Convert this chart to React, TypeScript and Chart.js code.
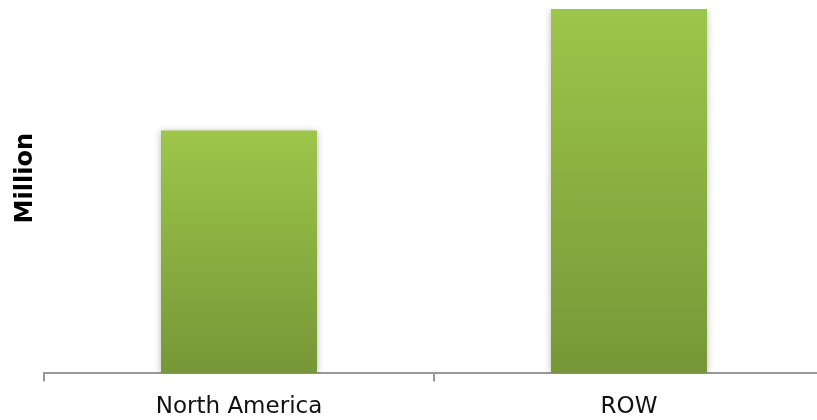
import React, { useEffect, useRef } from "react";
import { Chart, registerables } from "chart.js";

Chart.register(...registerables);

const categories = ["North America", "ROW"];
const values = [2.0, 3.0];
const yAxisTitle = "Million";
const yMax = 3.0;

const shadowPlugin = {
  id: "barShadow",
  beforeDatasetsDraw(chart: any) {
    const ctx = chart.ctx;
    ctx.save();
    ctx.shadowColor = "rgba(0,0,0,0.28)";
    ctx.shadowBlur = 7;
    ctx.shadowOffsetX = 0;
    ctx.shadowOffsetY = 1;
  },
  afterDatasetsDraw(chart: any) {
    chart.ctx.restore();
  },
};

const yTitlePlugin = {
  id: "yTitle",
  afterDraw(chart: any) {
    const ctx = chart.ctx;
    const area = chart.chartArea;
    ctx.save();
    ctx.translate(26, (area.top + area.bottom) / 2 - 13);
    ctx.rotate(-Math.PI / 2);
    ctx.font = "bold 24px 'DejaVu Sans'";
    ctx.fillStyle = "#000000";
    ctx.textAlign = "center";
    ctx.textBaseline = "middle";
    ctx.fillText(yAxisTitle, 0, 0);
    ctx.restore();
  },
};

export default function App() {
  const ref = useRef<HTMLCanvasElement | null>(null);
  useEffect(() => {
    document.documentElement.style.overflow = "hidden";
    document.body.style.overflow = "hidden";
    const chart = new Chart(ref.current as HTMLCanvasElement, {
      type: "bar",
      data: {
        labels: categories,
        datasets: [
          {
            data: values,
            backgroundColor: (c: any) => {
              const chart = c.chart;
              if (!chart.chartArea || c.parsed == null) return "#8bb142";
              const y = chart.scales.y;
              const top = y.getPixelForValue(c.parsed.y);
              const bottom = y.getPixelForValue(0);
              const g = chart.ctx.createLinearGradient(0, top, 0, bottom);
              g.addColorStop(0, "#9dc64a");
              g.addColorStop(1, "#779738");
              return g;
            },
            borderWidth: 0,
            barPercentage: 0.4,
            categoryPercentage: 1,
          },
        ],
      },
      options: {
        animation: false,
        responsive: false,
        maintainAspectRatio: false,
        layout: { padding: { top: 9, bottom: 3, left: 0, right: 0 } },
        plugins: { legend: { display: false }, tooltip: { enabled: false } },
        scales: {
          x: {
            grid: {
              display: true,
              drawOnChartArea: false,
              drawTicks: true,
              tickLength: 8,
              color: "#999999",
              lineWidth: 2,
              offset: true,
            },
            border: { display: true, color: "#999999", width: 2 },
            ticks: {
              color: "#111111",
              padding: 12,
              font: { family: "DejaVu Sans", size: 23 },
            },
          },
          y: {
            min: 0,
            max: yMax,
            grid: { display: false },
            border: { display: false },
            ticks: { display: false },
            title: { display: false },
            afterFit(scale: any) {
              scale.width = 44;
            },
          },
        },
      },
      plugins: [shadowPlugin, yTitlePlugin],
    } as any);
    return () => chart.destroy();
  }, []);
  return (
    <div style={{ position: "absolute", left: 0, top: 0, width: 824, height: 436 }}>
      <canvas ref={ref} width={824} height={436} style={{ display: "block" }} />
    </div>
  );
}
